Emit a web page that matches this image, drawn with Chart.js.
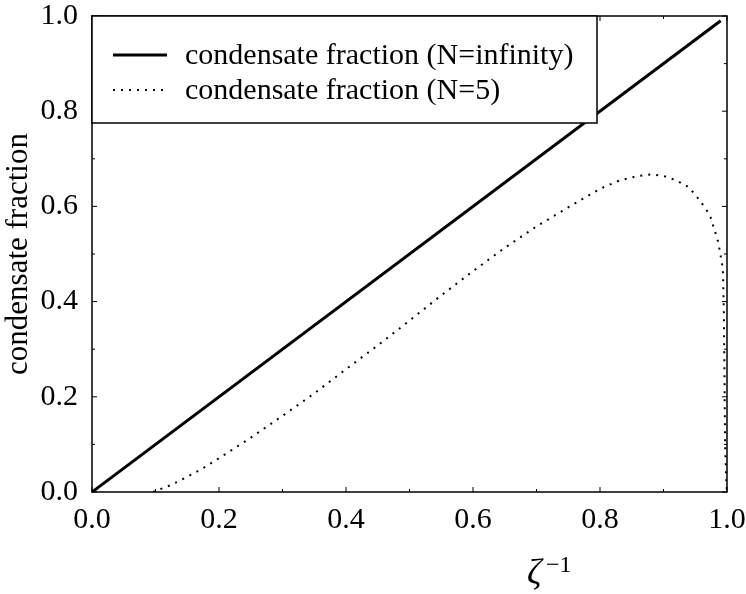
<!DOCTYPE html>
<html>
<head>
<meta charset="utf-8">
<script src="https://cdn.jsdelivr.net/npm/chart.js@4.4.1/dist/chart.umd.min.js"></script>
<style>
  html, body { margin: 0; padding: 0; background: #fff; }
  #wrap { width: 746px; height: 594px; }
</style>
</head>
<body>
<div id="wrap"><canvas id="myChart"></canvas></div>
<script>
// data
const infX = [0.0, 0.99];
const infY = [0.0, 0.99];

const n5X = [0.096, 0.125, 0.15, 0.175, 0.2, 0.25, 0.3, 0.35, 0.4, 0.45, 0.5, 0.55, 0.6, 0.65,
             0.7, 0.75, 0.8, 0.83, 0.86, 0.88, 0.9, 0.92, 0.94, 0.957, 0.973, 0.986, 0.9935,
             0.995, 0.996, 0.997, 0.999, 1.0];
const n5Y = [0.0, 0.015, 0.032, 0.05, 0.071, 0.114, 0.160, 0.207, 0.258, 0.308, 0.360, 0.413, 0.464, 0.513,
             0.558, 0.598, 0.637, 0.654, 0.664, 0.667, 0.664, 0.655, 0.640, 0.613, 0.582, 0.526, 0.47,
             0.38, 0.25, 0.10, 0.02, 0.0];

const seriesLabels = ['condensate fraction (N=infinity)', 'condensate fraction (N=5)'];
const xTickLabels = ['0.0', '0.2', '0.4', '0.6', '0.8', '1.0'];
const yTickLabels = ['0.0', '0.2', '0.4', '0.6', '0.8', '1.0'];
const yTitle = 'condensate fraction';

const FONT = "'Liberation Serif', 'Times New Roman', serif";

function pts(xs, ys) {
    return xs.map((x, i) => ({ x: x, y: ys[i] }));
}

// frame, inward ticks, legend box and the zeta axis label
const decor = {
    id: 'decor',
    afterDatasetsDraw(chart) {
        const c = chart.ctx;
        const a = chart.chartArea;
        const xs = chart.scales.x;
        const ys = chart.scales.y;
        c.save();
        c.strokeStyle = '#000';
        c.lineWidth = 1.5;
        c.strokeRect(a.left, a.top, a.right - a.left, a.bottom - a.top);

        c.lineWidth = 1;
        for (let i = 0; i <= 10; i++) {
            const v = i / 10;
            const len = i % 2 === 0 ? 5 : 3;
            const px = xs.getPixelForValue(v);
            const py = ys.getPixelForValue(v);
            c.beginPath();
            c.moveTo(px, a.bottom); c.lineTo(px, a.bottom - len);
            c.moveTo(px, a.top); c.lineTo(px, a.top + len);
            c.moveTo(a.left, py); c.lineTo(a.left + len, py);
            c.moveTo(a.right, py); c.lineTo(a.right - len, py);
            c.stroke();
        }

        // legend
        const lx = a.left, ly = a.top, lw = 505, lh = 107;
        c.fillStyle = '#fff';
        c.fillRect(lx, ly, lw, lh);
        c.lineWidth = 1.5;
        c.strokeRect(lx, ly, lw, lh);
        c.font = '30px ' + FONT;
        c.textBaseline = 'middle';
        c.fillStyle = '#000';
        chart.data.datasets.forEach((ds, i) => {
            const yy = ly + 39 + i * 35;
            c.beginPath();
            c.lineWidth = ds.borderWidth;
            c.setLineDash(ds.borderDash || []);
            c.moveTo(lx + 21, yy);
            c.lineTo(lx + 75, yy);
            c.stroke();
            c.setLineDash([]);
            c.fillText(ds.label, lx + 93, yy + 1);
        });

        // x axis title
        c.textBaseline = 'alphabetic';
        c.font = 'italic 36px ' + FONT;
        c.fillText('\u03b6', 527, 584);
        c.font = '24px ' + FONT;
        c.fillText('\u22121', 546, 572);
        c.restore();
    }
};

const ctx = document.querySelector('#myChart');

const graph = new Chart(ctx, {
    type: 'scatter',
    data: {
        datasets: [{
            label: seriesLabels[0],
            data: pts(infX, infY),
            showLine: true,
            borderColor: '#000',
            borderWidth: 3,
            pointRadius: 0
        }, {
            label: seriesLabels[1],
            data: pts(n5X, n5Y),
            showLine: true,
            borderColor: '#000',
            borderWidth: 2,
            borderDash: [2, 6],
            pointRadius: 0
        }]
    },
    plugins: [decor],
    options: {
        responsive: true,
        maintainAspectRatio: false,
        animation: false,
        layout: { padding: { left: 0, top: 16, right: 19, bottom: 0 } },
        plugins: {
            legend: { display: false },
            tooltip: { enabled: false }
        },
        scales: {
            x: {
                type: 'linear',
                min: 0, max: 1,
                grid: { display: false, drawTicks: false },
                border: { display: false },
                afterFit(s) { s.height = 102; s.paddingLeft = 0; s.paddingRight = 0; },
                afterBuildTicks(s) { s.ticks = xTickLabels.map(t => ({ value: parseFloat(t) })); },
                ticks: {
                    padding: 10,
                    color: '#000',
                    font: { family: FONT, size: 30 },
                    callback: (v) => v.toFixed(1)
                }
            },
            y: {
                type: 'linear',
                min: 0, max: 1,
                grid: { display: false, drawTicks: false },
                border: { display: false },
                afterFit(s) { s.width = 92; s.paddingTop = 0; s.paddingBottom = 0; },
                afterBuildTicks(s) { s.ticks = yTickLabels.map(t => ({ value: parseFloat(t) })); },
                title: {
                    display: true,
                    text: yTitle,
                    color: '#000',
                    font: { family: FONT, size: 31 },
                    padding: { top: 0, bottom: 0 }
                },
                ticks: {
                    padding: 14,
                    color: '#000',
                    font: { family: FONT, size: 30 },
                    callback: (v) => v.toFixed(1)
                }
            }
        }
    }
});
</script>
</body>
</html>
